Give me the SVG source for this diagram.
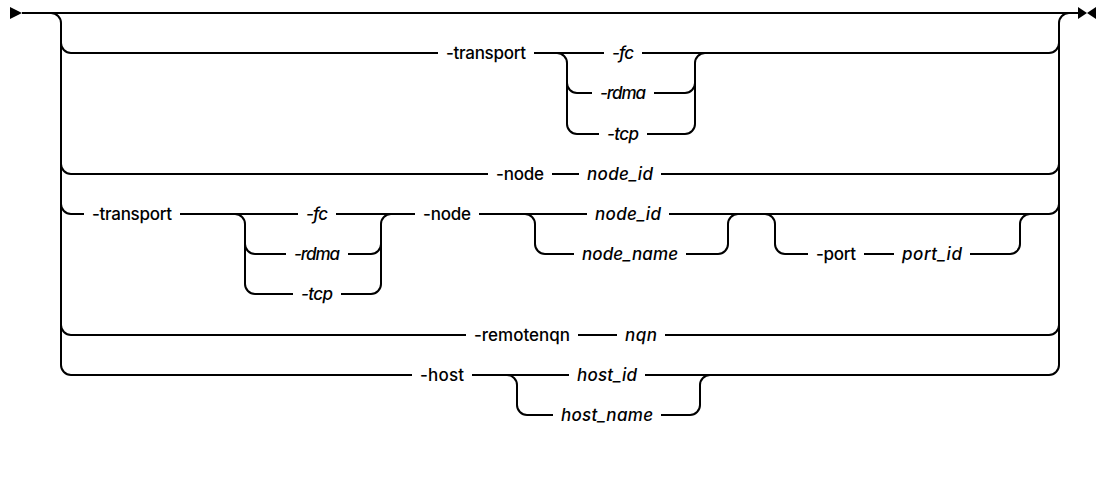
<svg xmlns="http://www.w3.org/2000/svg" width="1096" height="481" viewBox="0 0 1096 481">
<style>
.c{fill:none;stroke:#000;stroke-width:2}
.t{font-family:Inter,"Noto Sans","Liberation Sans",Arial,sans-serif;font-size:17px;font-weight:500;fill:#000;text-anchor:middle}
.i{font-style:italic}
.m{fill:#000}
</style>
<rect width="1096" height="481" fill="#fff"/>
<g id="connectors">
<polygon class="m" points="10,7 22,13 10,19"/>
<polygon class="m" points="1078,7 1087,13 1078,19"/>
<polygon class="m" points="1096,7 1087,13 1096,19"/>
<path class="c" d="M22,13 H1078"/>
<path class="c" d="M51,13 A10,10 0 0 1 61,23 V365 A10,10 0 0 0 71,375"/>
<path class="c" d="M61,43 A10,10 0 0 0 71,53 M61,164 A10,10 0 0 0 71,174 M61,204 A10,10 0 0 0 71,214 M61,325 A10,10 0 0 0 71,335"/>
<path class="c" d="M1049,375 A10,10 0 0 0 1059,365 V23 A10,10 0 0 1 1069,13"/>
<path class="c" d="M1049,53 A10,10 0 0 0 1059,43 M1049,174 A10,10 0 0 0 1059,164 M1049,214 A10,10 0 0 0 1059,204 M1049,335 A10,10 0 0 0 1059,325"/>
<path class="c" d="M71,53 H438 M534,53 H604 M642,53 H1049"/>
<path class="c" d="M557,53 A10,10 0 0 1 567,63 V124 A10,10 0 0 0 577,134 M567,83 A10,10 0 0 0 577,93"/>
<path class="c" d="M685,134 A10,10 0 0 0 695,124 V63 A10,10 0 0 1 705,53 M685,93 A10,10 0 0 0 695,83"/>
<path class="c" d="M577,93 H592 M654,93 H685 M577,134 H599 M647,134 H685"/>
<path class="c" d="M71,174 H488 M552,174 H579 M661,174 H1049"/>
<path class="c" d="M71,214 H84 M180,214 H298 M336,214 H415 M479,214 H587 M669,214 H1049"/>
<path class="c" d="M235,214 A10,10 0 0 1 245,224 V284 A10,10 0 0 0 255,294 M245,244 A10,10 0 0 0 255,254"/>
<path class="c" d="M371,294 A10,10 0 0 0 381,284 V224 A10,10 0 0 1 391,214 M371,254 A10,10 0 0 0 381,244"/>
<path class="c" d="M255,254 H286 M348,254 H371 M255,294 H293 M341,294 H371"/>
<path class="c" d="M525,214 A10,10 0 0 1 535,224 V244 A10,10 0 0 0 545,254"/>
<path class="c" d="M718,254 A10,10 0 0 0 728,244 V224 A10,10 0 0 1 738,214"/>
<path class="c" d="M545,254 H574 M686,254 H718"/>
<path class="c" d="M765,214 A10,10 0 0 1 775,224 V244 A10,10 0 0 0 785,254"/>
<path class="c" d="M1010,254 A10,10 0 0 0 1020,244 V224 A10,10 0 0 1 1030,214"/>
<path class="c" d="M785,254 H808 M864,254 H894 M970,254 H1010"/>
<path class="c" d="M71,335 H466 M578,335 H617 M665,335 H1049"/>
<path class="c" d="M71,375 H412 M472,375 H569 M645,375 H1049"/>
<path class="c" d="M507,375 A10,10 0 0 1 517,385 V405 A10,10 0 0 0 527,415"/>
<path class="c" d="M690,415 A10,10 0 0 0 700,405 V385 A10,10 0 0 1 710,375"/>
<path class="c" d="M527,415 H553 M661,415 H690"/>
</g>
<g id="transport1"><text class="t" x="486" y="59" textLength="80">-transport</text></g>
<g id="fc1"><text class="t i" x="623" y="59" textLength="22">-fc</text></g>
<g id="rdma1"><text class="t i" x="623" y="99" textLength="46">-rdma</text></g>
<g id="tcp1"><text class="t i" x="623" y="140" textLength="32">-tcp</text></g>
<g id="node1"><text class="t" x="520" y="180" textLength="48">-node</text></g>
<g id="nodeid1"><text class="t i" x="620" y="180" textLength="66">node_id</text></g>
<g id="transport2"><text class="t" x="132" y="220" textLength="80">-transport</text></g>
<g id="fc2"><text class="t i" x="317" y="220" textLength="22">-fc</text></g>
<g id="rdma2"><text class="t i" x="317" y="260" textLength="46">-rdma</text></g>
<g id="tcp2"><text class="t i" x="317" y="300" textLength="32">-tcp</text></g>
<g id="node2"><text class="t" x="447" y="220" textLength="48">-node</text></g>
<g id="nodeid2"><text class="t i" x="628" y="220" textLength="66">node_id</text></g>
<g id="nodename"><text class="t i" x="630" y="260" textLength="96">node_name</text></g>
<g id="port"><text class="t" x="836" y="260" textLength="40">-port</text></g>
<g id="portid"><text class="t i" x="932" y="260" textLength="60">port_id</text></g>
<g id="remotenqn"><text class="t" x="522" y="341" textLength="96">-remotenqn</text></g>
<g id="nqn"><text class="t i" x="641" y="341" textLength="32">nqn</text></g>
<g id="host"><text class="t" x="442" y="381" textLength="44">-host</text></g>
<g id="hostid"><text class="t i" x="607" y="381" textLength="60">host_id</text></g>
<g id="hostname"><text class="t i" x="607" y="421" textLength="92">host_name</text></g>
</svg>
